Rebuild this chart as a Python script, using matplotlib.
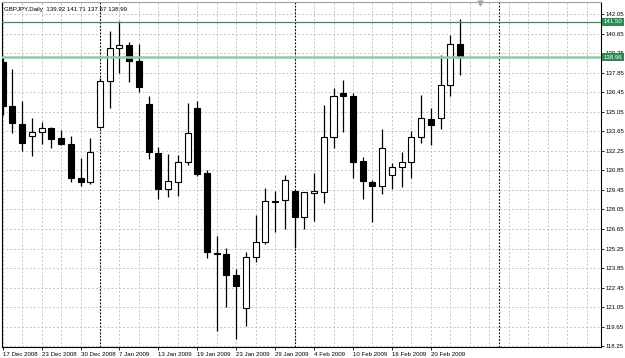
import matplotlib as mpl
mpl.use('Agg')
import matplotlib.pyplot as plt
import matplotlib.transforms as mtransforms
import numpy as np

#######################################################################################
# Data (GBPJPY daily candles)
opens  = [138.63, 135.45, 134.18, 133.30, 133.57, 133.87, 133.18, 132.73, 130.33, 130.02,
          133.93, 137.23, 139.60, 139.83, 138.69, 135.60, 132.12, 129.53, 130.04, 131.46,
          135.29, 130.69, 124.94, 124.84, 123.36, 120.97, 124.62, 125.70, 128.64, 128.70,
          129.40, 127.53, 129.20, 129.33, 133.22, 136.37, 136.21, 131.49, 130.04, 129.70,
          130.49, 131.06, 131.47, 133.22, 134.53, 134.58, 136.98, 139.92]
highs  = [138.87, 138.10, 135.84, 134.59, 134.30, 133.97, 133.77, 133.32, 131.71, 133.16,
          137.49, 140.85, 141.52, 140.07, 139.88, 136.21, 132.53, 132.05, 131.98, 135.70,
          135.82, 130.91, 126.15, 125.30, 123.81, 125.03, 127.62, 129.61, 129.40, 130.54,
          129.43, 129.30, 130.64, 135.56, 136.76, 137.31, 136.37, 131.83, 130.16, 133.82,
          131.35, 132.18, 133.67, 136.28, 135.29, 139.10, 140.56, 141.71]
lows   = [134.80, 133.53, 132.22, 131.88, 132.73, 132.44, 132.66, 130.02, 129.73, 129.90,
          133.85, 135.35, 137.86, 137.21, 136.48, 131.64, 128.77, 128.96, 129.03, 131.27,
          130.42, 124.60, 119.36, 121.08, 118.76, 119.69, 124.26, 125.56, 126.47, 126.63,
          125.27, 126.63, 127.25, 128.48, 132.42, 133.57, 130.31, 128.79, 127.12, 129.19,
          129.51, 129.68, 130.31, 132.83, 132.69, 133.79, 136.18, 137.67]
closes = [135.45, 134.21, 132.82, 133.62, 133.87, 133.09, 132.73, 130.33, 129.99, 132.17,
          137.23, 139.60, 139.82, 138.69, 136.80, 132.17, 129.53, 130.06, 131.46, 133.52,
          130.62, 124.98, 124.86, 123.36, 122.60, 124.62, 125.70, 128.63, 128.62, 130.13,
          127.53, 129.28, 129.35, 133.24, 136.16, 136.21, 131.47, 130.08, 129.72, 132.42,
          131.06, 131.47, 133.22, 134.58, 134.12, 137.00, 139.88, 138.99]

date_labels = ["17 Dec 2008", "23 Dec 2008", "30 Dec 2008", "7 Jan 2009", "13 Jan 2009",
               "19 Jan 2009", "23 Jan 2009", "29 Jan 2009", "4 Feb 2009", "10 Feb 2009",
               "16 Feb 2009", "20 Feb 2009"]
date_bars = [0, 4, 8, 12, 16, 20, 24, 28, 32, 36, 40, 44]
separator_bars = [10, 30, 51]          # month separators
price_levels = [118.25 + 1.4 * k for k in range(18)]
level_lines = [141.50, 138.96]         # horizontal lines with price labels
title = "GBPJPY,Daily  139.92 141.71 137.67 138.99"

#######################################################################################
# Settings
plt.rcParams['font.family'] = ['Liberation Sans', 'DejaVu Sans']
fs = 4.4
fig = plt.figure(figsize=(6.25, 3.58), dpi=100, facecolor='w')
ax = fig.add_axes([2/625, 11.3/358, 599/625, 344.7/358])
ax.set_xlim(-0.07, 61.49)
ax.set_ylim(118.22, 142.91)

#######################################################################################
# Grid and separators
for p in price_levels:
    ax.axhline(p, color='#c4c4c4', lw=0.7, ls=(0, (2, 2)), zorder=0)
for b in range(0, 62, 2):
    ax.axvline(b, color='#c4c4c4', lw=0.7, ls=(0, (2, 2)), zorder=0)
for b in separator_bars:
    ax.axvline(b, color='black', lw=0.8, ls=(0, (1.5, 1.5)), zorder=1)

#######################################################################################
# Candles
x = np.arange(len(opens))
o = np.array(opens); c = np.array(closes)
ax.vlines(x, lows, highs, color='black', lw=0.9, zorder=2)
up = c >= o
ax.bar(x[up], (c - o)[up], bottom=o[up], width=0.62, color='white', edgecolor='black', lw=0.8, zorder=3)
ax.bar(x[~up], (o - c)[~up], bottom=c[~up], width=0.62, color='black', edgecolor='black', lw=0.8, zorder=3)

#######################################################################################
# Level lines with labels
ax.axhline(level_lines[0], color='#3f8f5f', lw=0.9, zorder=4)
ax.axhline(level_lines[1], color='#8ecaa2', lw=1.8, zorder=4)
trans = mtransforms.blended_transform_factory(ax.transAxes, ax.transData)
for lv in level_lines:
    ax.text(1.004, lv, "%.2f" % lv, transform=trans, fontsize=fs, color='white', va='center', ha='left',
            bbox=dict(boxstyle='square,pad=0.25', facecolor='#2f8a55', edgecolor='none'), zorder=10, clip_on=False)

# chart shift marker
ax.plot([49.05], [142.84], marker='v', color='#a8a8a8', markersize=3.5, zorder=5, clip_on=False)

#######################################################################################
# Axes, ticks, labels
ax.set_xticks(date_bars, date_labels)
for lab in ax.get_xticklabels():
    lab.set_ha('left')
ax.tick_params(axis='x', labelsize=fs, length=2, pad=1.5, width=0.6)
ax.yaxis.tick_right()
ax.set_yticks(price_levels, ["%.2f" % p for p in price_levels])
ax.tick_params(axis='y', labelsize=fs, length=2, pad=1.5, width=0.6)
for s in ['left', 'right', 'bottom']:
    ax.spines[s].set_color('black')
    ax.spines[s].set_linewidth(0.8)
ax.spines['top'].set_color('#a0a0a0')
ax.text(0.004, 0.985, title, transform=ax.transAxes, fontsize=fs, va='top', ha='left', zorder=10)

plt.savefig("out.png", dpi=100, facecolor='w')
